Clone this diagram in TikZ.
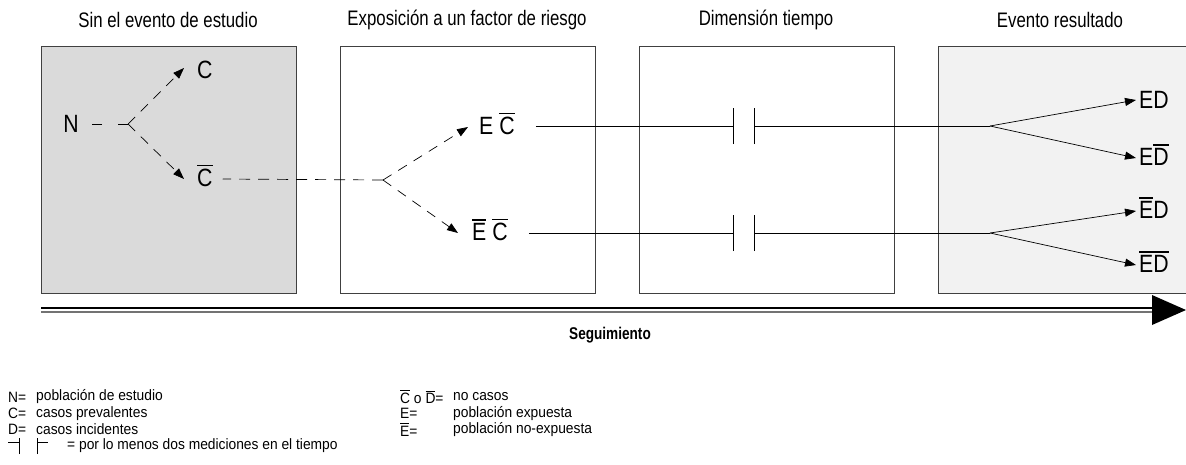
\documentclass[tikz,border=0pt]{standalone}
\usepackage{fontspec}
\setmainfont{Liberation Sans}
\newfontfamily\fttl{Liberation Sans}[FakeStretch=0.8]
\newfontfamily\flab{Liberation Sans}[FakeStretch=0.85]
\newfontfamily\fleg{Liberation Sans}[FakeStretch=0.92]
\usetikzlibrary{arrows.meta}
\definecolor{boxdark}{gray}{0.855}
\definecolor{boxlight}{gray}{0.95}
\newcommand{\ob}[1]{\leavevmode\vbox{\hrule height 0.05em\kern0.12em\hbox{#1}}}
\tikzset{
  box/.style={draw=black!75, line width=0.9pt, minimum width=255pt, minimum height=247pt, anchor=north west, inner sep=0pt},
  ttl/.style={font=\fttl\fontsize{21}{24}\selectfont, inner sep=0pt},
  lab/.style={font=\flab\fontsize{25}{29}\selectfont, inner sep=0pt},
  dsh/.style={dash pattern=on 10pt off 8pt, line width=0.7pt},
  tipa/.style={-{Triangle[length=11pt,width=8pt]}},
  sol/.style={line width=0.7pt},
  leg/.style={font=\fleg\fontsize{15}{17}\selectfont, anchor=west, inner sep=0pt},
}
\begin{document}
\begin{tikzpicture}[x=1pt,y=-1pt]
\clip (0,0) rectangle (1186,464);
\fill[white] (0,0) rectangle (1186,464);
% boxes
\node[box, fill=boxdark] (b1) at (41,46) {};
\node[box] (b2) at (340,46) {};
\node[box] (b3) at (639,46) {};
\node[box, fill=boxlight] (b4) at (938,46) {};
% titles
\node[ttl] (t1) at (168,20) {Sin el evento de estudio};
\node[ttl] (t2) at (467,20) {Exposición a un factor de riesgo};
\node[ttl] (t3) at (766,20) {Dimensión tiempo};
\node[ttl] (t4) at (1060,20) {Evento resultado};
% box 1
\node[lab] (N) at (71,124) {N};
\coordinate (v1) at (128,124);
\node[lab, anchor=west] (C) at (197,70) {C};
\node[lab, anchor=west] (Cb) at (197,176) {\ob{C}};
\draw[dsh, dash pattern=on 10pt off 16pt] (v1) -- ([xshift=11pt]N.east);
\draw[dsh, tipa] (v1) -- ([xshift=-13pt,yshift=2pt]C.west);
\draw[dsh, tipa] (v1) -- ([xshift=-13pt,yshift=-3pt]Cb.west);
% box 2
\coordinate (v2) at (383,180);
\draw[dsh, dash pattern=on 11pt off 8pt] (v2) -- ([xshift=10pt,yshift=-3pt]Cb.east);
\node[lab, anchor=west] (EC) at (479,124) {E \ob{C}};
\node[lab, anchor=west] (EbCb) at (472,230) {\ob{E} \ob{C}};
\draw[dsh, tipa] (v2) -- ([xshift=-11pt,yshift=-3pt]EC.west);
\draw[dsh, tipa] (v2) -- ([xshift=-14pt,yshift=-3pt]EbCb.west);
% box 3 : time marks
\coordinate (m1a) at (733,126);
\coordinate (m1b) at (754,126);
\coordinate (m2a) at (733,233);
\coordinate (m2b) at (754,233);
\coordinate (br1) at (990,126);
\coordinate (br2) at (990,233);
\draw[sol] ([xshift=21pt]EC.east |- m1a) -- (m1a);
\draw[sol] ([xshift=21pt]EbCb.east |- m2a) -- (m2a);
\draw[sol] ([yshift=-18pt]m1a) -- ([yshift=18pt]m1a);
\draw[sol] ([yshift=-18pt]m1b) -- ([yshift=18pt]m1b);
\draw[sol] ([yshift=-18pt]m2a) -- ([yshift=18pt]m2a);
\draw[sol] ([yshift=-18pt]m2b) -- ([yshift=18pt]m2b);
\draw[sol] (m1b) -- (br1);
\draw[sol] (m2b) -- (br2);
% box 4
\node[lab, anchor=west] (ED) at (1139,100) {ED};
\node[lab, anchor=west] (EDb) at (1139,155) {E\ob{D}};
\node[lab, anchor=west] (EbD) at (1139,208) {\ob{E}D};
\node[lab, anchor=west] (EbDb) at (1139,262) {\ob{E}\ob{D}};
\draw[sol, tipa] (br1) -- ([xshift=-3pt]ED.west);
\draw[sol, tipa] (br1) -- ([xshift=-3pt,yshift=-3pt]EDb.west);
\draw[sol, tipa] (br2) -- ([xshift=-3pt,yshift=-3pt]EbD.west);
\draw[sol, tipa] (br2) -- ([xshift=-3pt,yshift=-3pt]EbDb.west);
% follow-up axis
\coordinate (ax0) at (41,310);
\coordinate (ax1) at (1152,310);
\coordinate (axt) at (1186,310);
\draw[line width=1.2pt, black!55] ([yshift=-2pt]ax0) -- ([yshift=-2pt]ax1);
\draw[line width=1.2pt] ([yshift=2pt]ax0) -- ([yshift=2pt]ax1);
\fill ([yshift=-15pt]ax1) -- (axt) -- ([yshift=15pt]ax1) -- cycle;
\node[font=\fttl\fontsize{17}{20}\selectfont\bfseries, inner sep=0pt] (seg) at (610,335) {Seguimiento};
% legend
\node[leg] (l1a) at (8,397) {N=};
\node[leg] (l1b) at (36,397) {población de estudio};
\node[leg] (l2a) at (8,413.3) {C=};
\node[leg] (l2b) at (36,413.3) {casos prevalentes};
\node[leg] (l3a) at (8,429.6) {D=};
\node[leg] (l3b) at (36,429.6) {casos incidentes};
\node[leg] (r1a) at (400,397) {\ob{C} o \ob{D}=};
\node[leg] (r1b) at (453,397) {no casos};
\node[leg] (r2a) at (400,413.3) {E=};
\node[leg] (r2b) at (453,413.3) {población expuesta};
\node[leg] (r3a) at (400,429.6) {\ob{E}=};
\node[leg] (r3b) at (453,429.6) {población no-expuesta};
\coordinate (k1) at (19,446);
\coordinate (k2) at (37,446);
\draw[line width=0.7pt] ([yshift=-8pt]k1) -- ([yshift=8pt]k1);
\draw[line width=0.7pt] ([xshift=-11pt,yshift=4pt]k1) -- ([yshift=4pt]k1);
\draw[line width=0.7pt] ([yshift=-8pt]k2) -- ([yshift=8pt]k2);
\draw[line width=0.7pt] ([yshift=4pt]k2) -- ([xshift=11pt,yshift=4pt]k2);
\node[leg] (l4) at (67,446) {= por lo menos dos mediciones en el tiempo};
\end{tikzpicture}
\end{document}
